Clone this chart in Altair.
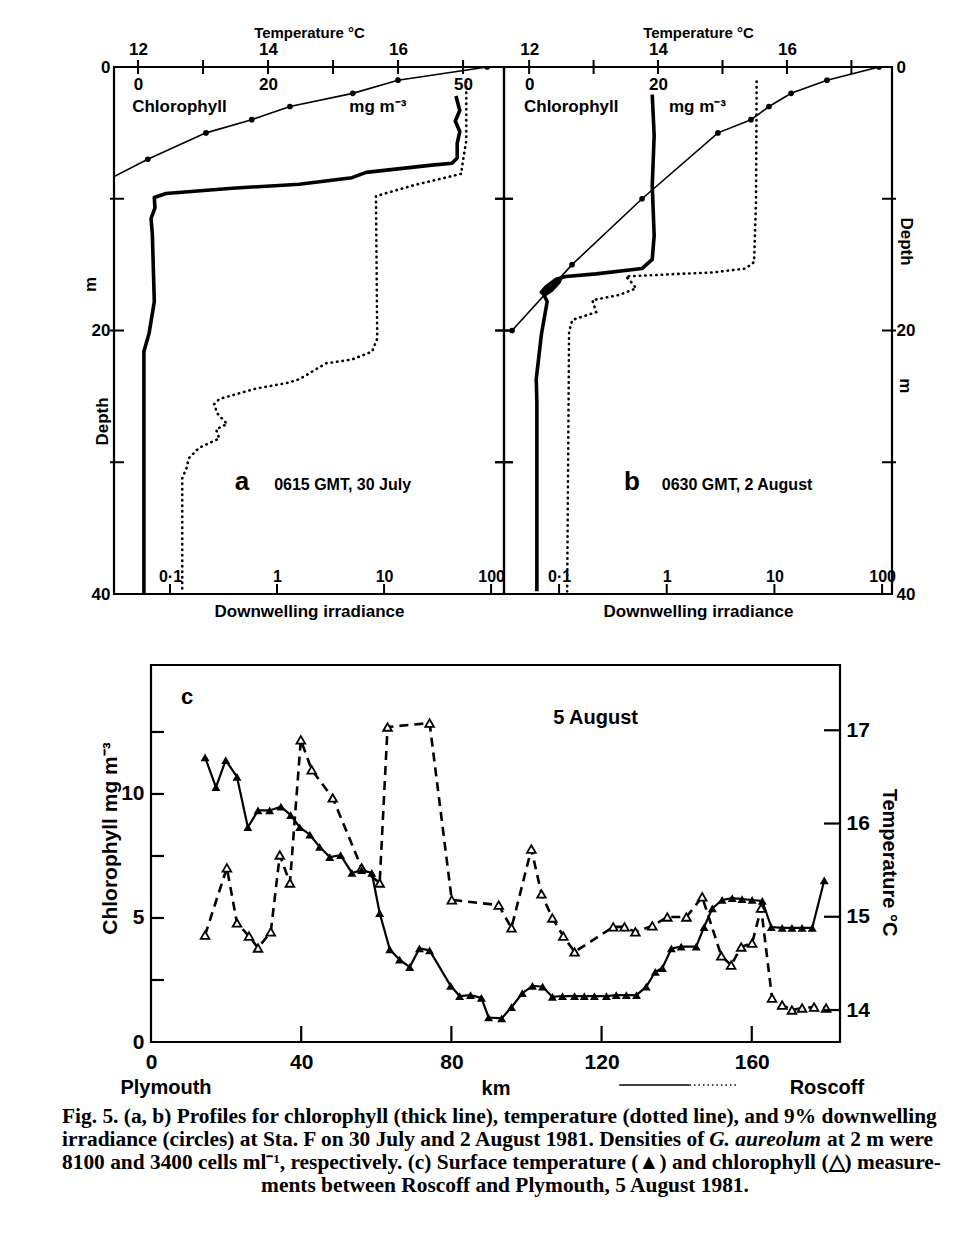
import altair as alt
import pandas as pd

FONT = "Liberation Sans"
SERIF = "Liberation Serif"

# ---------------- panel a : 0615 GMT, 30 July ----------------
a_irr_depth = [0, 1, 2, 3, 4, 5, 7, 10]
a_irr = [92, 13.5, 5.1, 1.32, 0.58, 0.217, 0.062, 0.012]
a_chl_depth = [2.2, 3.3, 4.1, 4.9, 5.8, 6.9, 7.3, 7.45, 8.0, 8.4, 8.9, 9.2, 9.6, 9.9, 10.7, 11.5, 12.7, 17.8, 20.2, 21.6, 40.0]
a_chl = [48.9, 49.5, 48.8, 49.5, 49.1, 49.1, 48.3, 45.2, 35.1, 32.9, 24.8, 14.5, 4.3, 2.5, 2.6, 2.0, 2.2, 2.5, 1.7, 0.9, 0.9]
a_temp_depth = [1.1, 5.6, 7.7, 8.1, 9.0, 9.8, 20.6, 21.6, 22.2, 22.5, 23.7, 24.0, 24.4, 25.2, 25.6, 26.3, 27.1,
                27.5, 28.2, 28.9, 29.7, 30.4, 31.2, 39.8]
a_temp = [17.05, 17.05, 16.98, 16.98, 16.22, 15.66, 15.68, 15.6, 15.29, 14.89, 14.48, 14.28, 13.82, 13.25, 13.17,
          13.22, 13.37, 13.2, 13.25, 12.94, 12.78, 12.75, 12.68, 12.68]

# ---------------- panel b : 0630 GMT, 2 August ----------------
b_irr_depth = [0, 1, 2, 3, 4, 5, 10, 15, 20]
b_irr = [93.6, 30.8, 14.3, 8.9, 6.06, 2.99, 0.59, 0.132, 0.0366]
b_chl_depth = [2.1, 5.2, 9.0, 12.8, 14.6, 15.3, 15.7, 15.9, 16.1, 16.7, 17.1, 17.3, 16.9, 16.3, 16.0, 16.4, 16.9,
               17.3, 17.8, 20.3, 23.7, 25.4, 39.8]
b_chl = [19.1, 19.4, 19.1, 19.4, 19.1, 17.5, 10.4, 5.7, 4.2, 2.6, 1.9, 2.4, 3.6, 4.7, 4.9, 3.9, 2.7, 2.3, 2.8, 1.9,
         1.1, 1.2, 1.2]
b_temp_depth = [1.1, 10.2, 14.8, 15.3, 15.6, 15.7, 15.9, 16.3, 16.8, 17.3, 17.7, 18.6, 19.2, 20.1, 39.8]
b_temp = [15.53, 15.52, 15.49, 15.36, 14.84, 14.33, 13.5, 13.58, 13.66, 13.4, 12.98, 13.04, 12.67, 12.62, 12.59]

# axis values of the profile panels
temp_ticks = [12, 13, 14, 15, 16, 17]
temp_labels = [12, 14, 16]
irr_ticks = [0.1, 1, 10, 100]
depth_ticks = [10, 20, 30]
depth_labels = [0, 20, 40]

# ---------------- panel c : 5 August transect ----------------
c_temp_km = [14.4, 17.3, 19.9, 22.9, 25.8, 28.5, 31.6, 34.6, 37.2, 39.6, 42.3, 44.9, 47.6, 50.5, 53.5, 56.1, 58.8,
             60.9, 63.6, 66.2, 68.9, 71.5, 74.2, 79.8, 82.2, 85.1, 88.0, 89.9, 93.4, 96.0, 98.9, 101.6, 104.3,
             106.9, 109.6, 112.8, 115.4, 118.1, 121.3, 123.9, 126.6, 129.3, 131.9, 134.3, 136.2, 138.6, 141.2,
             145.2, 147.3, 149.5, 152.1, 154.8, 157.4, 160.1, 162.8, 165.2, 168.1, 170.7, 173.4, 176.1, 179.3]
c_temp = [16.71, 16.39, 16.68, 16.50, 15.96, 16.14, 16.14, 16.18, 16.09, 15.96, 15.88, 15.75, 15.64, 15.66, 15.47,
          15.50, 15.47, 15.04, 14.65, 14.54, 14.46, 14.66, 14.64, 14.26, 14.15, 14.16, 14.13, 13.92, 13.91, 14.03,
          14.18, 14.26, 14.25, 14.14, 14.15, 14.15, 14.15, 14.15, 14.15, 14.16, 14.16, 14.16, 14.25, 14.41, 14.45,
          14.66, 14.68, 14.68, 14.89, 15.09, 15.18, 15.20, 15.19, 15.18, 15.17, 14.89, 14.88, 14.88, 14.88, 14.88,
          15.39]
c_chl_km = [14.4, 20.2, 22.9, 26.1, 28.5, 31.9, 34.3, 37.0, 39.9, 42.8, 48.4, 56.1, 60.9, 63.0, 74.2, 80.1, 92.6,
            96.0, 101.3, 104.0, 106.9, 109.8, 112.8, 123.1, 126.1, 129.0, 133.5, 137.5, 142.6, 146.8, 151.9, 154.5,
            157.2, 160.1, 162.5, 165.4, 168.1, 170.7, 173.4, 176.6, 179.8]
c_chl = [4.31, 7.02, 4.80, 4.27, 3.79, 4.44, 7.54, 6.41, 12.18, 10.97, 9.84, 7.02, 6.41, 12.70, 12.86, 5.73, 5.52,
         4.60, 7.78, 5.97, 5.00, 4.27, 3.63, 4.64, 4.64, 4.44, 4.68, 5.04, 5.04, 5.85, 3.47, 3.10, 3.83, 3.99, 5.40,
         1.77, 1.49, 1.29, 1.37, 1.41, 1.37]
km_labels = [0, 40, 80, 120, 160]
km_ticks = [40, 80, 120, 160]
chl_labels = [0, 5, 10]
chl_ticks = [2.5, 5, 7.5, 10, 12.5]
c_temp_labels = [14, 15, 16, 17]

caption_1 = "Fig. 5.    (a, b) Profiles for chlorophyll (thick line), temperature (dotted line), and 9% downwelling"
caption_2a = "irradiance (circles) at Sta. F on 30 July and 2 August 1981. Densities of"
caption_2b = "G. aureolum"
caption_2c = "at 2 m were"
caption_3 = "8100 and 3400 cells ml⁻¹, respectively. (c) Surface temperature (▲) and chlorophyll (△) measure-"
caption_4 = "ments between Roscoff and Plymouth, 5 August 1981."

W_A, W_B, H_AB = 390, 388, 527
W_C, H_C = 689, 377
CAP_FS = 21.4


def pin(x, y1, y2):
    """invisible rule that fixes the bounding box of a row"""
    return alt.Chart(pd.DataFrame({"v": [0]})).mark_rule(color="white", strokeWidth=1, opacity=0).encode(
        x=alt.value(x), y=alt.value(y1), y2=alt.value(y2))


def profile(p, width, side):
    dscale = alt.Scale(domain=[0, 40], reverse=True, nice=False, zero=False)
    tscale = alt.Scale(domain=p["temp_dom"], nice=False, zero=False)
    cscale = alt.Scale(domain=p["chl_dom"], nice=False, zero=False)
    iscale = alt.Scale(type="log", domain=p["irr_dom"], nice=False)
    if side == "left":
        daxis = alt.Axis(orient="left", values=depth_labels, ticks=False, domain=False, labelPadding=4,
                         labelFontSize=17, title="Depth", titleX=-12, titleY=354, titleAngle=270,
                         titleBaseline="middle", titleAlign="center", titleFontSize=17)
    else:
        daxis = alt.Axis(orient="right", values=depth_labels, ticks=False, domain=False, labelPadding=4,
                         labelFontSize=17, title="Depth", titleX=13, titleY=174, titleAngle=90,
                         titleBaseline="middle", titleAlign="center", titleFontSize=17)
    Y = lambda: alt.Y("depth:Q", scale=dscale, axis=daxis)

    tdf = pd.DataFrame({"T": p["t"], "depth": p["t_depth"], "i": range(len(p["t"]))})
    cdf = pd.DataFrame({"C": p["c"], "depth": p["c_depth"], "i": range(len(p["c"]))})
    idf = pd.DataFrame({"E": p["e"], "depth": p["e_depth"], "i": range(len(p["e"]))})

    temp_line = alt.Chart(tdf).mark_line(color="black", strokeWidth=2.6, strokeDash=[0.5, 5], strokeCap="round").encode(
        x=alt.X("T:Q", scale=tscale, axis=alt.Axis(orient="top", values=temp_labels, ticks=False, domain=False,
                                                   labelPadding=9, labelFontSize=17, title="Temperature    °C",
                                                   titleY=-35, titleBaseline="middle", titleFontSize=15)),
        y=Y(), order="i:Q")
    temp_tick = alt.Chart(pd.DataFrame({"T": temp_ticks})).mark_rule(color="black", strokeWidth=2).encode(
        x=alt.X("T:Q", scale=tscale, axis=None), y=alt.value(-7), y2=alt.value(7))

    chl_line = alt.Chart(cdf).mark_line(color="black", strokeWidth=3.6, strokeJoin="round").encode(
        x=alt.X("C:Q", scale=cscale, axis=alt.Axis(orient="top", values=p["chl_labels"], ticks=False, domain=False,
                                                   labelPadding=-26, labelFontSize=17, title=None)),
        y=Y(), order="i:Q")
    chl_text = alt.Chart(pd.DataFrame({"C": p["chl_text_x"], "depth": [3.0, 3.0],
                                       "txt": ["Chlorophyll", "mg m⁻³"]})).mark_text(
        align="left", baseline="middle", fontSize=17, fontWeight="bold", font=FONT, color="black").encode(
        x=alt.X("C:Q", scale=cscale, axis=None), y=Y(), text="txt:N")

    irr_line = alt.Chart(idf).mark_line(color="black", strokeWidth=1.6, clip=True).encode(
        x=alt.X("E:Q", scale=iscale, axis=alt.Axis(orient="bottom", values=irr_ticks, ticks=False, domain=False,
                                                   labelPadding=-26, labelFontSize=16, labelFlush=False,
                                                   labelExpr="datum.value < 0.5 ? '0·1' : datum.label",
                                                   title="Downwelling  irradiance", titleY=17,
                                                   titleBaseline="middle", titleFontSize=17)),
        y=Y(), order="i:Q")
    irr_pts = alt.Chart(idf).mark_point(filled=True, color="black", size=32, opacity=1, clip=True).encode(
        x=alt.X("E:Q", scale=iscale, axis=None), y=Y())
    irr_tick = alt.Chart(pd.DataFrame({"E": irr_ticks})).mark_rule(color="black", strokeWidth=2).encode(
        x=alt.X("E:Q", scale=iscale, axis=None), y=alt.value(H_AB - 10), y2=alt.value(H_AB))

    letter = alt.Chart(pd.DataFrame({"E": [p["letter_x"]], "depth": [31.5], "txt": [p["letter"]]})).mark_text(
        align="center", baseline="middle", fontSize=26, fontWeight="bold", font=FONT, color="black").encode(
        x=alt.X("E:Q", scale=iscale, axis=None), y=Y(), text="txt:N")
    label = alt.Chart(pd.DataFrame({"E": [p["label_x"]], "depth": [31.7], "txt": [p["label"]]})).mark_text(
        align="left", baseline="middle", fontSize=16, fontWeight="bold", font=FONT, color="black").encode(
        x=alt.X("E:Q", scale=iscale, axis=None), y=Y(), text="txt:N")

    ddf = pd.DataFrame({"depth": depth_ticks})
    layers = [temp_line, temp_tick, chl_line, chl_text, irr_line, irr_pts, irr_tick, letter, label]
    if side == "left":
        layers.append(alt.Chart(ddf).mark_rule(color="black", strokeWidth=2).encode(
            y=Y(), x=alt.value(-4), x2=alt.value(10)))
        layers.append(alt.Chart(ddf).mark_rule(color="black", strokeWidth=2).encode(
            y=Y(), x=alt.value(width - 9), x2=alt.value(width + 9)))
        layers.append(alt.Chart(pd.DataFrame({"depth": [16.5], "txt": ["m"]})).mark_text(
            angle=270, fontSize=17, fontWeight="bold", font=FONT, color="black", baseline="middle").encode(
            y=Y(), x=alt.value(-23), text="txt:N"))
        layers.append(pin(-60, -45, H_AB + 32))
    else:
        layers.append(alt.Chart(ddf).mark_rule(color="black", strokeWidth=2).encode(
            y=Y(), x=alt.value(-9), x2=alt.value(9)))
        layers.append(alt.Chart(ddf).mark_rule(color="black", strokeWidth=2).encode(
            y=Y(), x=alt.value(width - 10), x2=alt.value(width + 4)))
        layers.append(alt.Chart(pd.DataFrame({"depth": [24.2], "txt": ["m"]})).mark_text(
            angle=90, fontSize=17, fontWeight="bold", font=FONT, color="black", baseline="middle").encode(
            y=Y(), x=alt.value(width + 13), text="txt:N"))

    return alt.layer(*layers).resolve_scale(x="independent").properties(width=width, height=H_AB)


pa = profile(dict(temp_dom=[11.63, 17.63], chl_dom=[-3.7, 56.3], irr_dom=[0.030, 132],
                  t=a_temp, t_depth=a_temp_depth, c=a_chl, c_depth=a_chl_depth, e=a_irr, e_depth=a_irr_depth,
                  chl_labels=[0, 20, 50], chl_text_x=[-0.9, 32.5], letter="a", letter_x=0.47,
                  label="0615 GMT, 30 July", label_x=0.94), W_A, "left")
pb = profile(dict(temp_dom=[11.61, 17.63], chl_dom=[-3.9, 56.3], irr_dom=[0.0308, 123.6],
                  t=b_temp, t_depth=b_temp_depth, c=b_chl, c_depth=b_chl_depth, e=b_irr, e_depth=b_irr_depth,
                  chl_labels=[0, 20], chl_text_x=[-0.8, 21.7], letter="b", letter_x=0.476,
                  label="0630 GMT,  2 August", label_x=0.90), W_B, "right")

# ---------------- panel c ----------------
xs = alt.Scale(domain=[0, 183.5], nice=False, zero=False)
cs = alt.Scale(domain=[0, 15.2], nice=False, zero=False)
ts = alt.Scale(domain=[13.657, 17.70], nice=False, zero=False)
xaxis = alt.Axis(values=km_labels, ticks=False, domain=False, labelPadding=9, labelFontSize=21, labelFlush=False,
                 title="km", titleY=46, titleBaseline="middle", titleFontSize=20)
X = lambda f="km": alt.X(f + ":Q", scale=xs, axis=xaxis)

tdf = pd.DataFrame({"km": c_temp_km, "T": c_temp})
cdf = pd.DataFrame({"km": c_chl_km, "C": c_chl})

chl_l = alt.Chart(cdf).mark_line(color="black", strokeWidth=2.6, strokeDash=[9, 6]).encode(
    x=X(), y=alt.Y("C:Q", scale=cs, axis=alt.Axis(orient="left", values=chl_labels, ticks=False, domain=False,
                                                  labelPadding=7, labelFontSize=21, title="Chlorophyll   mg m⁻³",
                                                  titleX=-41, titleY=173, titleAngle=270, titleBaseline="middle",
                                                  titleFontSize=21)))
temp_l = alt.Chart(tdf).mark_line(color="black", strokeWidth=2.2).encode(
    x=X(), y=alt.Y("T:Q", scale=ts, axis=alt.Axis(orient="right", values=c_temp_labels, ticks=False, domain=False,
                                                  labelPadding=6, labelFontSize=21, title="Temperature   °C",
                                                  titleX=48, titleY=197, titleAngle=90, titleBaseline="middle",
                                                  titleFontSize=20)))
chl_p = alt.Chart(cdf).mark_point(shape="triangle-up", filled=True, fill="white", stroke="black", strokeWidth=1.8,
                                  size=75, opacity=1).encode(x=X(), y=alt.Y("C:Q", scale=cs, axis=None))
temp_p = alt.Chart(tdf).mark_point(shape="triangle-up", filled=True, color="black", size=80, opacity=1).encode(
    x=X(), y=alt.Y("T:Q", scale=ts, axis=None))
lt = alt.Chart(pd.DataFrame({"C": chl_ticks})).mark_rule(color="black", strokeWidth=2.2).encode(
    y=alt.Y("C:Q", scale=cs, axis=None), x=alt.value(0), x2=alt.value(13))
rt = alt.Chart(pd.DataFrame({"T": c_temp_labels})).mark_rule(color="black", strokeWidth=2.2).encode(
    y=alt.Y("T:Q", scale=ts, axis=None), x=alt.value(W_C - 16), x2=alt.value(W_C))
bt = alt.Chart(pd.DataFrame({"km": km_ticks})).mark_rule(color="black", strokeWidth=2.2).encode(
    x=X(), y=alt.value(H_C - 16), y2=alt.value(H_C))
c_txt = alt.Chart(pd.DataFrame({"km": [9.6, 118.4], "C": [13.9, 13.06], "txt": ["c", "5  August"],
                                "fs": [22, 20]})).mark_text(
    baseline="middle", align="center", fontWeight="bold", font=FONT, color="black").encode(
    x=X(), y=alt.Y("C:Q", scale=cs, axis=None), text="txt:N", size=alt.Size("fs:Q", scale=None, legend=None))
places = alt.Chart(pd.DataFrame({"km": [4.0, 180.0], "txt": ["Plymouth", "Roscoff"]})).mark_text(
    baseline="middle", align="center", fontWeight="bold", font=FONT, fontSize=20, color="black").encode(
    x=X(), y=alt.value(H_C + 46), text="txt:N")
arrow1 = alt.Chart(pd.DataFrame({"a": [124.7], "b": [143.4]})).mark_rule(color="black", strokeWidth=1.5).encode(
    x=X("a"), x2="b:Q", y=alt.value(H_C + 43))
arrow2 = alt.Chart(pd.DataFrame({"a": [143.4], "b": [156.6]})).mark_rule(color="black", strokeWidth=1.5,
                                                                          strokeDash=[1.5, 3]).encode(
    x=X("a"), x2="b:Q", y=alt.value(H_C + 43))


def cap_text(txt, x, y, align="left", style="normal"):
    return alt.Chart(pd.DataFrame({"txt": [txt]})).mark_text(
        align=align, baseline="middle", font=SERIF, fontWeight="bold", fontStyle=style, fontSize=CAP_FS,
        color="black").encode(x=alt.value(x), y=alt.value(y), text="txt:N")


caps = [
    cap_text(caption_1, -89, 452),
    cap_text(caption_2a, -89, 475),
    cap_text(caption_2b, 614, 475, align="center", style="italic"),
    cap_text(caption_2c, 782, 475, align="right"),
    cap_text(caption_3, -89, 498),
    cap_text(caption_4, 354, 521, align="center"),
]

pc = alt.layer(chl_l, temp_l, chl_p, temp_p, lt, rt, bt, c_txt, places, arrow1, arrow2, *caps,
               pin(-96, -5, H_C + 150)).resolve_scale(y="independent").properties(width=W_C, height=H_C)

spacer = alt.Chart(pd.DataFrame({"v": [0]})).mark_text(text="").properties(
    width=37, height=H_C, view=alt.ViewBackground(strokeOpacity=0))

top = alt.hconcat(pa, pb, spacing=0, bounds="flush")
bottom = alt.hconcat(spacer, pc, spacing=0, bounds="flush")
chart = alt.vconcat(top, bottom, spacing=30).properties(
    padding={"left": 44, "top": 12, "right": 0, "bottom": 5}
).configure(font=FONT, background="white").configure_view(stroke="black", strokeWidth=2.2).configure_axis(
    labelFont=FONT, titleFont=FONT, labelFontWeight="bold", titleFontWeight="bold", labelColor="black",
    titleColor="black", grid=False)

chart.save("out.html", embed_options={"renderer": "svg", "actions": False})
